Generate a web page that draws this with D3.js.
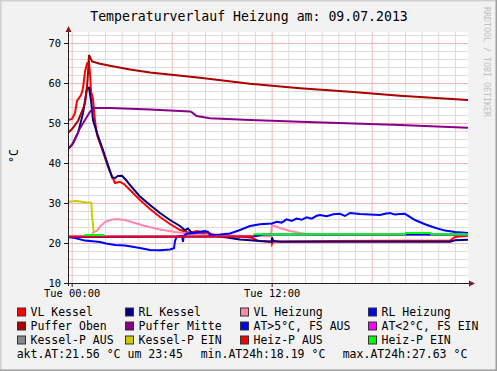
<!DOCTYPE html>
<html>
<head>
<meta charset="utf-8">
<script src="https://cdn.jsdelivr.net/npm/d3@7"></script>
<style>
body { margin: 0; background: #fff; }
text { font-family: "DejaVu Sans Mono", monospace; fill: #000; }
</style>
</head>
<body>
<div id="chart"></div>
<script>
// data: [hours since Tue 00:00, °C], null = gap
const vlKessel = [[-0.22,50.75],[0.02,51],[0.2,52.5],[0.32,55.5],[0.56,57],[0.68,58.7],[0.8,62.8],[0.92,64.9],[1.04,65.2],
  [1.1,62.4],[1.16,58],[1.28,56],[1.4,50.5],[1.52,47],[1.88,42.75],[2.18,39],[2.6,35],[2.9,35.3],[3.14,34.75],[3.5,33.25],
  [4.1,30.75],[4.7,28.5],[5.3,26.5],[5.9,24.75],[6.5,23.25],[7.1,22.5],[7.5,23],[7.7,22.8],[8.18,22.6],[8.6,21.9],[10.1,21.7],
  [10.8,21.3],[11.2,20.5],[12.0,20.4],[12.02,19.8],[12.08,20.4],[16,20.5],[22.7,20.6],[23.0,21.5],[23.78,21.8]];
const rlKessel = [[-0.22,43.5],[0.02,44.5],[0.38,47.5],[0.68,52.4],[0.8,55.5],[0.92,58.7],[1.04,58.8],[1.16,55.75],[1.28,50.75],
  [1.52,47.5],[1.88,43.25],[2.18,39.5],[2.42,36.4],[2.6,36.25],[2.78,36.75],[3.02,36.8],[3.26,35.75],[3.5,34.5],[4.1,31.6],
  [4.7,29.5],[5.3,27.5],[5.9,25.75],[6.5,24.25],[6.8,23.2],[6.98,23.6],[7.2,22.6],[7.46,22.5],[8.9,21.6],[10.1,20.9],
  [11.9,20.3],[12.0,20.3],[12.02,21.4],[12.1,20.5],[12.5,20.3],[22.7,20.3],[23.0,20.7],[23.78,20.8]];
const vlHeizung = [[-0.22,21.6],[1.22,21.6],[1.28,22.7],[1.52,23],[1.7,24.1],[2.0,25.25],[2.3,25.75],[2.66,26],[3.2,25.75],
  [3.8,25],[4.4,24.25],[5.3,23.4],[6.2,22.75],[7.1,22.25],[8.3,22],[10.7,21.75],[11.95,21.7],[12.02,24.5],[12.5,23.75],
  [13.1,23],[13.7,22.5],[14.3,22.1],[15,22],[23.78,22]];
const rlHeizung = [[-0.22,21.5],[10.9,21.6],[11.5,22.1],[23.78,22.1]];
const pufferOben = [[-0.22,47.5],[0.02,48.5],[0.38,50.5],[0.68,53.5],[0.8,55],[0.92,59],[0.98,62.5],[1.04,67],[1.22,65.4],
  [1.7,64.8],[2.3,64.3],[3.5,63.4],[4.7,62.6],[7.7,61.3],[10.7,59.8],[13.7,58.7],[16.7,57.8],[19.7,56.8],[23.78,55.75]];
const pufferMitte = [[-0.22,43.5],[0.1,45],[0.5,48.7],[0.8,50.75],[1.1,52.8],[1.3,53.75],[2.3,53.75],[4.7,53.4],[7.1,52.9],
  [7.2,52.7],[7.5,51.75],[8.3,51.2],[10.7,50.75],[13.7,50.3],[19.7,49.5],[23.78,48.8]];
const atAus = [[-0.22,21.5],[0.2,21.25],[0.8,20.6],[1.7,20.25],[2.06,19.9],[2.6,19.5],[3.2,19.4],[4.1,18.75],[4.7,18.25],
  [5.3,18.2],[5.9,18.4],[6.14,18.7],[6.2,20.5],[6.3,21.6],[6.5,21.75],[6.62,21.8],[6.68,20.3],[6.72,21.8],[6.9,22.3],
  [7.4,22.5],[7.7,22.8],[8.0,23],[8.18,22.8],[8.3,22],[8.9,22.1],[9.5,22.4],[10.1,23.25],[10.7,24.25],[11.3,24.7],
  [12.02,24.9],[12.3,25.3],[12.6,25.1],[12.9,25.9],[13.2,25.5],[13.5,26.1],[13.8,25.8],[14.1,26.4],[14.4,26.1],[14.7,26.8],
  [14.9,27],[15.3,26.7],[15.7,27.2],[16.1,27.3],[16.4,26.75],[16.7,27.5],[17.3,27.25],[17.9,27.1],[18.5,27],[18.8,27.3],
  [19.1,27.5],[19.4,27.1],[19.7,27.25],[20.0,27.3],[20.6,25.75],[21.2,24.7],[21.8,23.8],[22.4,23.1],[23.0,22.75],[23.78,22.5]];
const atEin = [];
const kesselPAus = [];
const kesselPEin = [[-0.22,30.3],[0.3,30.5],[0.8,30.2],[1.18,30.1],[1.22,27],[1.3,23.4],[1.36,22.6]];
const heizPAus = [[-0.22,21.6],[10.9,21.6]];
const heizPEin = [[0.75,22],[1.95,22],[1.96,null],[10.9,22.2],[20,22.2],[20.05,22.5],[21.5,22.5],[21.6,22.2],[23.78,22.2]];

const yTicks = [10, 20, 30, 40, 50, 60, 70];
const xTickHours = [0, 12];
const xTickLabels = ["Tue 00:00", "Tue 12:00"];
const legendNames = ["VL Kessel", "RL Kessel", "VL Heizung", "RL Heizung",
  "Puffer Oben", "Puffer Mitte", "AT>5°C, FS AUS", "AT<2°C, FS EIN",
  "Kessel-P AUS", "Kessel-P EIN", "Heiz-P AUS", "Heiz-P EIN"];
const legendColors = ["#ff0000", "#000080", "#ff88aa", "#0000ff",
  "#aa0000", "#880088", "#0000ff", "#ff00ff",
  "#888888", "#cccc00", "#ff0000", "#00ff00"];
const seriesData = [vlKessel, rlKessel, vlHeizung, rlHeizung, pufferOben, pufferMitte,
  atAus, atEin, kesselPAus, kesselPEin, heizPAus, heizPEin];
const footerTexts = ["akt.AT:21.56 °C um 23:45", "min.AT24h:18.19 °C", "max.AT24h:27.63 °C"];

const W = 497, H = 371;
const plot = { left: 68, right: 468, top: 32, bottom: 283 };

const svg = d3.select("#chart").append("svg")
    .attr("width", W)
    .attr("height", H);

// background + shading frame
svg.append("rect").attr("width", W).attr("height", H).attr("fill", "#f2f2f2");
svg.append("path").attr("d", `M0,${H} V0 H${W}`).attr("stroke", "#cfcfcf").attr("stroke-width", 3).attr("fill", "none");
svg.append("path").attr("d", `M0,${H} H${W} V0`).attr("stroke", "#9e9e9e").attr("stroke-width", 3).attr("fill", "none");

svg.append("rect")
    .attr("x", plot.left).attr("y", plot.top)
    .attr("width", plot.right - plot.left).attr("height", plot.bottom - plot.top)
    .attr("fill", "#fff");

const x = d3.scaleLinear().domain([-0.22, 23.78]).range([plot.left, plot.right]);
const y = d3.scaleLinear().domain([10, 72.75]).range([plot.bottom, plot.top]);

// grid
function grid(values, color, vertical) {
    const g = svg.append("g");
    if (vertical) {
        g.attr("transform", `translate(0,${plot.bottom})`)
         .call(d3.axisBottom(x).tickValues(values).tickSize(-(plot.bottom - plot.top)).tickFormat(""));
    } else {
        g.attr("transform", `translate(${plot.left},0)`)
         .call(d3.axisLeft(y).tickValues(values).tickSize(-(plot.right - plot.left)).tickFormat(""));
    }
    g.select(".domain").remove();
    g.selectAll("line").attr("stroke", color);
}
grid(d3.range(0, 24, 1).filter(h => h % 6 != 0), "#dcdcdc", true);
grid(d3.range(10, 73, 2).filter(v => v % 10 != 0), "#dcdcdc", false);
grid(d3.range(0, 24, 6), "#efb8b8", true);
grid(yTicks, "#efb8b8", false);

// lines
svg.append("clipPath").attr("id", "clip").append("rect")
    .attr("x", plot.left).attr("y", plot.top)
    .attr("width", plot.right - plot.left).attr("height", plot.bottom - plot.top);

const line = d3.line()
    .defined(d => d[1] != null)
    .x(d => x(d[0]))
    .y(d => y(d[1]));

svg.append("g").attr("clip-path", "url(#clip)")
    .selectAll("path")
    .data(seriesData)
    .enter()
    .append("path")
    .attr("d", d => line(d))
    .attr("fill", "none")
    .attr("stroke", (d, i) => legendColors[i])
    .attr("stroke-width", 2);

// axes
const yAxis = svg.append("g")
    .attr("transform", `translate(${plot.left},0)`)
    .call(d3.axisLeft(y).tickValues(yTicks).tickSize(4).tickPadding(3).tickFormat(d3.format("d")));
yAxis.select(".domain").attr("d", `M0.5,${plot.bottom + 3}V${plot.top - 2}`).attr("stroke", "#1f1f1f");
yAxis.selectAll("line").attr("stroke", "#1f1f1f");
yAxis.selectAll("text").style("font-size", "10.4px").style("font-family", "DejaVu Sans Mono");

const xAxis = svg.append("g")
    .attr("transform", `translate(0,${plot.bottom})`)
    .call(d3.axisBottom(x).tickValues(xTickHours).tickSize(4).tickPadding(3)
        .tickFormat((d, i) => xTickLabels[i]));
xAxis.select(".domain").attr("d", `M${plot.left - 3},0.5H${plot.right + 2}`).attr("stroke", "#1f1f1f");
xAxis.selectAll("line").attr("stroke", "#1f1f1f");
xAxis.selectAll("text").style("font-size", "10.4px").style("font-family", "DejaVu Sans Mono");

// arrows
svg.append("path")
    .attr("d", `M${plot.left - 2.5},${plot.top} L${plot.left + 3.5},${plot.top} L${plot.left + 0.5},${plot.top - 6} Z`)
    .attr("fill", "#801f1f");
svg.append("path")
    .attr("d", `M${plot.right + 1},${plot.bottom - 2.5} L${plot.right + 1},${plot.bottom + 3.5} L${plot.right + 7},${plot.bottom + 0.5} Z`)
    .attr("fill", "#801f1f");

// titles
svg.append("text")
    .attr("x", 249)
    .attr("y", 21)
    .style("text-anchor", "middle")
    .style("font-size", "13.2px")
    .text("Temperaturverlauf Heizung am: 09.07.2013");

svg.append("text")
    .attr("transform", "translate(18,156) rotate(-90)")
    .style("text-anchor", "middle")
    .style("font-size", "11.5px")
    .text("°C");

svg.append("text")
    .attr("transform", "translate(484,7) rotate(90)")
    .style("font-size", "8.3px")
    .style("fill", "#c0c0c0")
    .text("RRDTOOL / TOBI OETIKER");

// legend
const colX = [17, 125, 240, 368];
const legend = svg.append("g");
legendNames.forEach((name, i) => {
    const cx = colX[i % 4];
    const base = 315.5 + Math.floor(i / 4) * 14;
    legend.append("rect")
        .attr("x", cx + 0.5).attr("y", base - 7.5)
        .attr("width", 8).attr("height", 8)
        .attr("fill", legendColors[i])
        .attr("stroke", "#333")
        .attr("stroke-width", 1);
    legend.append("text")
        .attr("x", cx + 13.5)
        .attr("y", base)
        .style("font-size", "11.5px")
        .text(name);
});

const footX = [16.7, 200.7, 342.7];
footerTexts.forEach((t, i) => {
    svg.append("text")
        .attr("x", footX[i])
        .attr("y", 357.5)
        .style("font-size", "11.5px")
        .text(t);
});
</script>
</body>
</html>
